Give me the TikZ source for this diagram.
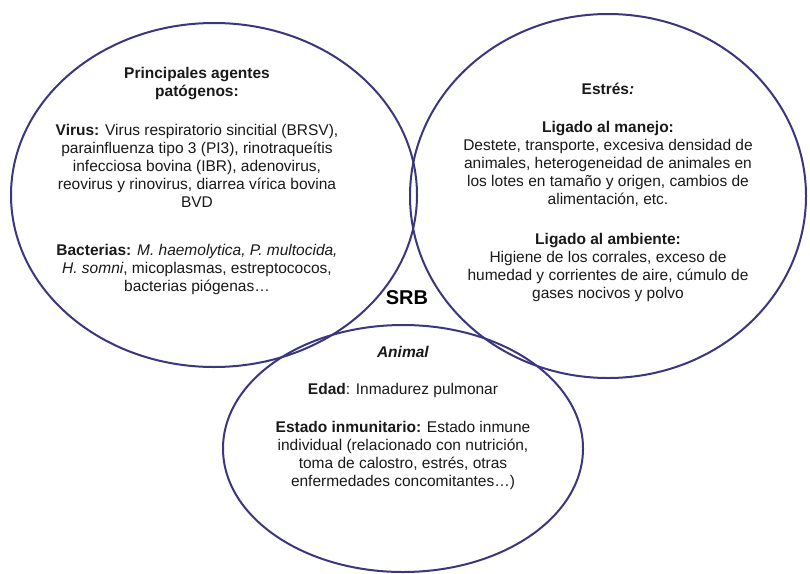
\documentclass[tikz,border=0pt]{standalone}
\usepackage{fontspec}
\setmainfont{Liberation Sans}
\usetikzlibrary{shapes.geometric}
\definecolor{ringcol}{RGB}{58,54,128}
\tikzset{
  ring/.style={ellipse, draw=ringcol, line width=2pt, inner sep=0pt},
  body/.style={align=center, inner sep=0pt, anchor=north, text=black!90,
               font=\fontsize{15.5}{18}\selectfont},
  srb/.style={inner sep=0pt, font=\fontsize{20}{24}\selectfont\bfseries}
}
\begin{document}
\begin{tikzpicture}[x=1pt,y=-1pt]
\useasboundingbox (0,0) rectangle (810,573);
\node[ring, minimum width=406pt, minimum height=344pt] (pat) at (214,195) {};
\node[ring, minimum width=396pt, minimum height=364pt] (est) at (608,196) {};
\node[ring, minimum width=360pt, minimum height=247pt] (ani) at (403,448.5) {};

\node[body] (pattext) at (197,67.5) {%
\textbf{Principales agentes}\\
\textbf{patógenos:}\\[21pt]
\textbf{Virus:} Virus respiratorio sincitial (BRSV),\\
parainfluenza tipo 3 (PI3), rinotraqueítis\\
infecciosa bovina (IBR), adenovirus,\\
reovirus y rinovirus, diarrea vírica bovina\\
BVD\\[30pt]
\textbf{Bacterias:} \textit{M. haemolytica, P. multocida,}\\
\textit{H. somni}, micoplasmas, estreptococos,\\
bacterias piógenas…};

\node[body] (esttext) at (608,83) {%
\textbf{Estrés\textit{:}}\\[20pt]
\textbf{Ligado al manejo:}\\
Destete, transporte, excesiva densidad de\\
animales, heterogeneidad de animales en\\
los lotes en tamaño y origen, cambios de\\
alimentación, etc.\\[22pt]
\textbf{Ligado al ambiente:}\\
Higiene de los corrales, exceso de\\
humedad y corrientes de aire, cúmulo de\\
gases nocivos y polvo};

\node[body] (anitext) at (403,346) {%
\textbf{\textit{Animal}}\\[19pt]
\textbf{Edad}: Inmadurez pulmonar\\[20pt]
\textbf{Estado inmunitario:} Estado inmune\\
individual (relacionado con nutrición,\\
toma de calostro, estrés, otras\\
enfermedades concomitantes…)};

\node[srb] (srbl) at (407,298) {SRB};
\end{tikzpicture}
\end{document}
